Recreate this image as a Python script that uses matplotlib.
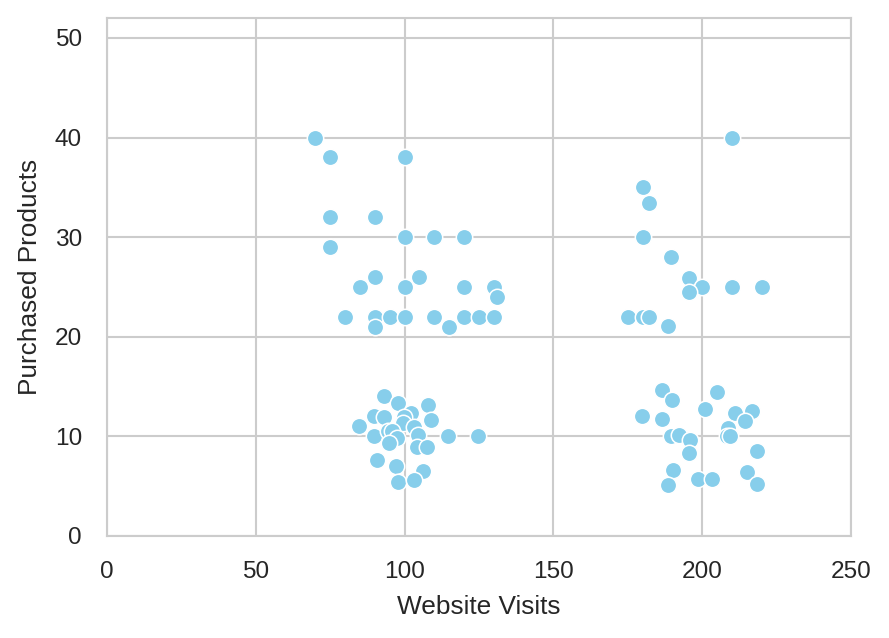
import numpy as np
import matplotlib
matplotlib.use("Agg")
import matplotlib.pyplot as plt
import seaborn as sns

# website visits vs purchased products
visits = [70, 75, 100, 75, 90, 100, 110, 120, 75, 90, 85, 100, 105, 120, 130, 131,
          80, 90, 90, 95, 100, 110, 115, 120, 125, 130,
          210, 180, 182.2, 180, 189.5, 195.7, 200, 195.7, 210, 220, 175, 180, 182.2, 188.6,
          93.2, 97.9, 108.0, 89.8, 93.2, 102.0, 99.9, 109.0, 84.8, 99.3, 103.2, 89.8, 94.5,
          95.7, 97.3, 104.6, 114.7, 124.8, 94.9, 104.0, 107.4, 90.8, 97.0, 106.3, 97.9, 103.2,
          186.6, 190.0, 205.0, 179.9, 186.6, 201.0, 211.2, 216.8, 214.4, 208.8, 208.2, 209.5,
          189.5, 192.3, 195.9, 195.6, 218.5, 190.3, 215.2, 188.6, 198.7, 203.4, 218.5]
purchases = [40, 38, 38, 32, 32, 30, 30, 30, 29, 26, 25, 25, 26, 25, 25, 24,
             22, 22, 21, 22, 22, 22, 21, 22, 22, 22,
             40, 35, 33.4, 30, 28, 25.9, 25, 24.5, 25, 25, 22, 22, 22, 21.05,
             14.1, 13.35, 13.1, 12.05, 11.95, 12.3, 11.95, 11.6, 11.05, 11.3, 10.97, 10.0, 10.5,
             10.5, 9.8, 10.1, 10.0, 10.0, 9.3, 8.97, 8.9, 7.6, 7.0, 6.5, 5.45, 5.6,
             14.7, 13.7, 14.5, 12.05, 11.7, 12.75, 12.3, 12.55, 11.55, 10.87, 10.05, 10.05,
             10.04, 10.14, 9.64, 8.3, 8.5, 6.6, 6.45, 5.1, 5.7, 5.7, 5.2]

sns.set_style("whitegrid")
plt.rcParams['font.family'] = ['Liberation Sans', 'DejaVu Sans']

fig = plt.figure(figsize=(889 / 150, 638 / 150), dpi=150)
ax = fig.add_axes([0.1204, 0.1599, 0.8368, 0.8119])

sns.scatterplot(x=visits, y=purchases, color="skyblue", s=62,
                edgecolor="white", linewidth=0.75, ax=ax)

ax.set_xlim(0, 250)
ax.set_ylim(0, 52)
ax.set_xticks([0, 50, 100, 150, 200, 250])
ax.set_yticks([0, 10, 20, 30, 40, 50])
ax.tick_params(labelsize=11.7, colors="#262626", length=0, pad=12)
ax.grid(True, color="#cccccc", linewidth=1.0)
ax.set_xlabel("Website Visits", fontsize=12.6, color="#262626", labelpad=6)
ax.set_ylabel("Purchased Products", fontsize=12.6, color="#262626", labelpad=6)
for sp in ax.spines.values():
    sp.set_color("#cccccc")
    sp.set_linewidth(1.0)

fig.savefig("out.png", dpi=150)
